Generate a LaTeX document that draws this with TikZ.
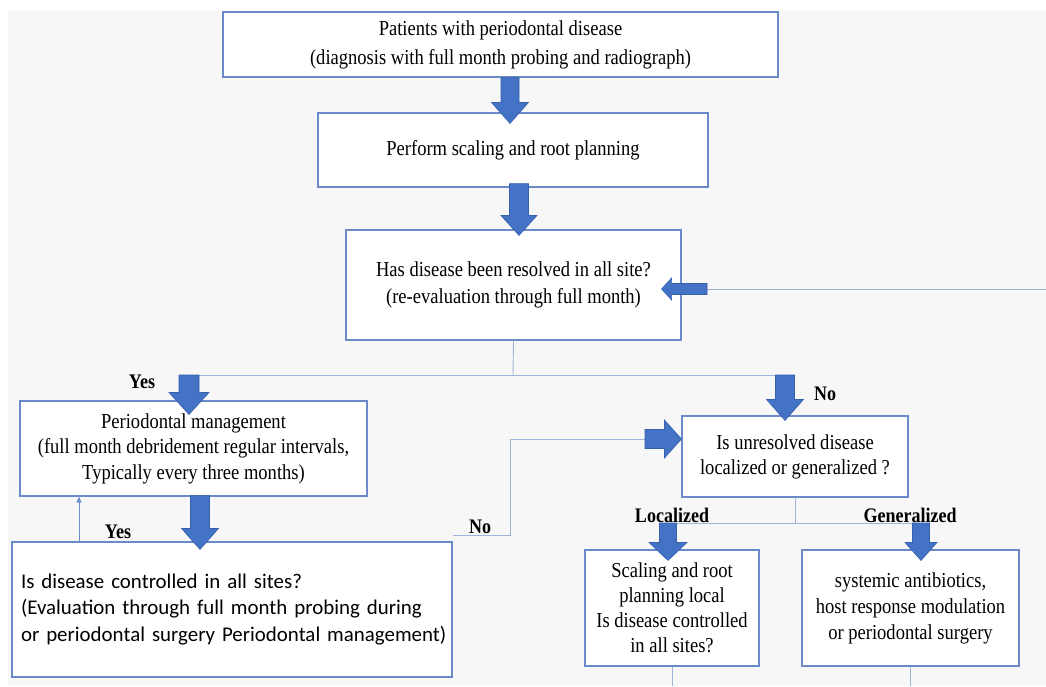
\documentclass[tikz,border=0pt]{standalone}
\usepackage{fontspec}
\setmainfont{Liberation Serif}[FakeStretch=0.87]
\newfontfamily\calib{Carlito}
\usetikzlibrary{calc,arrows.meta}
\definecolor{bg}{HTML}{F7F7F7}
\definecolor{boxline}{HTML}{6A8BC8}
\definecolor{arrfill}{HTML}{4472C4}
\definecolor{arrline}{HTML}{3660AE}
\definecolor{thinl}{HTML}{9FB3DA}
\definecolor{loopl}{HTML}{6F8FCB}
\tikzset{
  box/.style={draw=boxline, line width=1.1pt, fill=white, inner sep=0pt, align=center,
    font=\fontsize{21.3}{26}\selectfont},
  blockarrow/.style={fill=arrfill, draw=arrline, line width=0.6pt, line join=miter},
  conn/.style={draw=thinl, line width=0.9pt},
  lbl/.style={font=\fontsize{20.7}{22}\selectfont\bfseries, inner sep=0pt},
}
\newcommand\BlockDown[5]{%
  \filldraw[blockarrow] let \p1=(#1), \p2=(#2) in
    (\x2-#3pt,\y1) -- (\x2+#3pt,\y1) -- (\x2+#3pt,\y2+#5pt) -- (\x2+#4pt,\y2+#5pt)
    -- (\x2,\y2) -- (\x2-#4pt,\y2+#5pt) -- (\x2-#3pt,\y2+#5pt) -- cycle;}
\newcommand\BlockRight[5]{%
  \filldraw[blockarrow] let \p1=(#1), \p2=(#2) in
    (\x1,\y2+#3pt) -- (\x2-#5pt,\y2+#3pt) -- (\x2-#5pt,\y2+#4pt) -- (\x2,\y2)
    -- (\x2-#5pt,\y2-#4pt) -- (\x2-#5pt,\y2-#3pt) -- (\x1,\y2-#3pt) -- cycle;}
\newcommand\BlockLeft[5]{%
  \filldraw[blockarrow] let \p1=(#1), \p2=(#2) in
    (\x1,\y2+#3pt) -- (\x2+#5pt,\y2+#3pt) -- (\x2+#5pt,\y2+#4pt) -- (\x2,\y2)
    -- (\x2+#5pt,\y2-#4pt) -- (\x2+#5pt,\y2-#3pt) -- (\x1,\y2-#3pt) -- cycle;}
\begin{document}
\begin{tikzpicture}[x=1pt,y=-1pt]
\useasboundingbox (0,0) rectangle (1046,686);
\fill[bg] (8,11) rectangle (1046,686);

% boxes
\node[box, minimum width=555, minimum height=65, font=\fontsize{21.3}{29}\selectfont] (b1) at (500.5,44.5)
  {Patients with periodontal disease\\(diagnosis with full month probing and radiograph)};
\node[box, minimum width=390, minimum height=74] (b2) at (513,150) {Perform scaling and root planning};
\node[box, minimum width=335, minimum height=110, font=\fontsize{21.3}{27}\selectfont] (b3) at (513.5,285)
  {Has disease been resolved in all site?\\(re-evaluation through full month)};
\node[box, minimum width=347, minimum height=95, font=\fontsize{21.3}{25.5}\selectfont] (pm) at (193.5,448.5)
  {Periodontal management\\(full month debridement regular intervals,\\Typically every three months)};
\node[box, minimum width=440, minimum height=135, text width=422pt, inner xsep=9pt, align=left,
  font=\calib\fontsize{20.9}{26.5}\selectfont] (ct) at (232,609.5)
  {\mbox{Is disease controlled in all sites?}\\\mbox{(Evaluation through full month probing during}\\\mbox{or periodontal surgery Periodontal management)}};
\node[box, minimum width=226, minimum height=81, font=\fontsize{21.3}{25}\selectfont] (un) at (795,456.5)
  {Is unresolved disease\\localized or generalized ?};
\node[box, minimum width=174, minimum height=116, font=\fontsize{21.3}{25}\selectfont] (lo) at (672,608)
  {Scaling and root\\planning local\\Is disease controlled\\in all sites?};
\node[box, minimum width=217, minimum height=116, font=\fontsize{21.3}{26}\selectfont] (ge) at (910.5,608)
  {systemic antibiotics,\\host response modulation\\or periodontal surgery};

% coordinates
\coordinate (split) at (513,375);
\coordinate (hl) at (199,375);
\coordinate (hr) at (776,375);
\coordinate (lsplit) at (795,523);
\coordinate (ll) at (668,523);
\coordinate (lr) at (921,523);
\coordinate (nl) at (645,439);
\coordinate (sr) at (707,289);
\coordinate (rend) at (1046,289);
\coordinate (bot) at (0,686);

% thin connectors
\draw[conn] (b3.south) -- (split);
\draw[conn] (hl) -- (hr);
\draw[conn] (un.south) -- (lsplit);
\draw[conn] (ll) -- (lr);
\draw[conn] ([yshift=6pt]ct.north east) -- ++(58,0) |- (nl);
\draw[conn] (sr) -- (rend);
\draw[conn] (lo.south) -- (lo.south |- bot);
\draw[conn] (ge.south) -- (ge.south |- bot);
\draw[draw=loopl, line width=0.9pt, -{Triangle[length=6pt,width=5pt]}]
  ([xshift=-153pt]ct.north) -- ([xshift=-153pt]ct.north |- pm.south);

% block arrows
\BlockDown{b1.south}{[xshift=-3pt,yshift=-11pt]b2.north}{9}{18.5}{21}
\BlockDown{[yshift=4pt]b2.south}{[xshift=5.5pt,yshift=-6pt]b3.north}{9.5}{18}{20}
\BlockDown{split}{[xshift=-4.5pt,yshift=-14pt]pm.north}{10}{20}{22}
\BlockDown{split}{[xshift=-10pt,yshift=-5pt]un.north}{9.5}{18.5}{21}
\BlockDown{[yshift=1pt]pm.south}{[xshift=-32pt,yshift=-8pt]ct.north}{9.5}{18.5}{21}
\BlockDown{lsplit}{[xshift=-4pt,yshift=-11pt]lo.north}{8.5}{19}{18}
\BlockDown{lsplit}{[xshift=10.5pt,yshift=-11pt]ge.north}{8.5}{16}{18}
\BlockRight{nl}{[yshift=17.5pt]un.west}{9.5}{19}{17}
\BlockLeft{sr}{[xshift=-20pt,yshift=-4pt]b3.east}{5.5}{11}{10}

% labels
\node[lbl] (yes1) at (142,382) {Yes};
\node[lbl] (no1) at (825,394) {No};
\node[lbl] (yes2) at (118,532) {Yes};
\node[lbl] (no2) at (480,527) {No};
\node[lbl] (loc) at (672,515) {Localized};
\node[lbl] (gen) at (910,515) {Generalized};
\end{tikzpicture}
\end{document}
